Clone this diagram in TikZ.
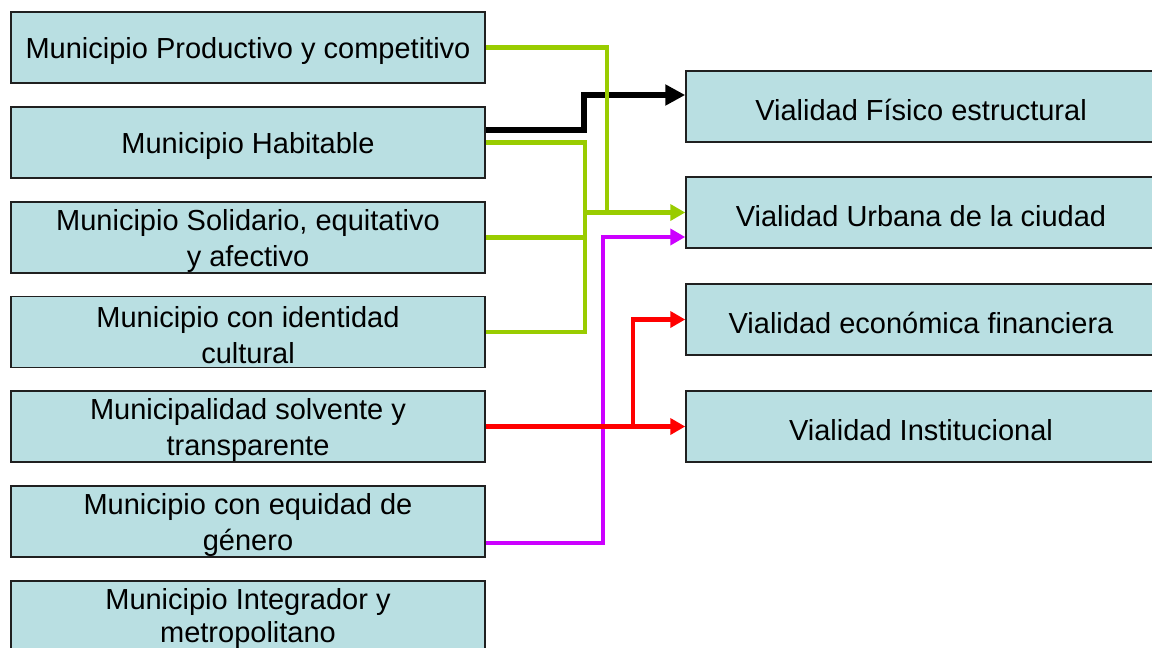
\documentclass[tikz,border=0pt]{standalone}
\usepackage{fontspec}
\setmainfont{Liberation Sans}
\usetikzlibrary{arrows.meta}
\definecolor{boxfill}{HTML}{B9DFE2}
\definecolor{boxline}{HTML}{202020}
\definecolor{lgreen}{HTML}{99CC00}
\definecolor{lmag}{HTML}{CC00FF}
\definecolor{lred}{HTML}{FF0000}
\tikzset{
  lbox/.style={draw=boxline, line width=1.5pt, fill=boxfill, minimum width=474pt, minimum height=71pt, inner sep=0pt},
  rbox/.style={draw=boxline, line width=1.5pt, fill=boxfill, minimum width=470pt, minimum height=71pt, inner sep=0pt},
  txt/.style={inner sep=0pt, align=center, font=\fontsize{29}{36}\selectfont},
  tip/.style={-{Triangle[length=15pt,width=16pt]}},
  bigtip/.style={-{Triangle[length=20pt,width=20pt]}},
  gline/.style={draw=lgreen, line width=4.5pt},
  kline/.style={draw=black, line width=5.5pt},
  rline/.style={draw=lred, line width=4.5pt},
  mline/.style={draw=lmag, line width=4pt}
}
\begin{document}
\begin{tikzpicture}[x=1pt,y=-1pt]
\useasboundingbox (0,0) rectangle (1152,648);
\clip (0,0) rectangle (1152,648);
% left boxes
\node[lbox] (L1) at (248,47.5) {};
\node[lbox] (L2) at (248,142.5) {};
\node[lbox] (L3) at (248,237.5) {};
\node[lbox] (L4) at (248,332) {};
\node[lbox] (L5) at (248,426.5) {};
\node[lbox] (L6) at (248,521.5) {};
\node[lbox] (L7) at (248,616.5) {};
\node[txt] (L1t) at ([yshift=-3.5pt]L1.center) {Municipio Productivo y competitivo};
\node[txt] (L2t) at ([yshift=-3.5pt]L2.center) {Municipio Habitable};
\node[txt] (L3t) at ([yshift=-3.5pt]L3.center) {Municipio Solidario, equitativo\\y afectivo};
\node[txt] (L4t) at ([yshift=-3.5pt]L4.center) {Municipio con identidad\\cultural};
\node[txt] (L5t) at ([yshift=-3.5pt]L5.center) {Municipalidad solvente y\\transparente};
\node[txt] (L6t) at ([yshift=-3.5pt]L6.center) {Municipio con equidad de\\género};
\node[txt, font=\fontsize{29}{33}\selectfont] (L7t) at ([yshift=-2pt]L7.center) {Municipio Integrador y\\metropolitano};
% right boxes
\node[rbox] (R1) at (921,106.5) {};
\node[rbox] (R2) at (921,212.5) {};
\node[rbox] (R3) at (921,319.5) {};
\node[rbox] (R4) at (921,426.5) {};
\node[txt] (R1t) at ([yshift=-3.5pt]R1.center) {Vialidad Físico estructural};
\node[txt] (R2t) at ([yshift=-3.5pt]R2.center) {Vialidad Urbana de la ciudad};
\node[txt] (R3t) at ([yshift=-3.5pt]R3.center) {Vialidad económica financiera};
\node[txt] (R4t) at ([yshift=-3.5pt]R4.center) {Vialidad Institucional};
% helper coordinates
\coordinate (bx) at (584,0);
\coordinate (gx) at (585,0);
\coordinate (g1x) at (607,0);
\coordinate (mx) at (603,0);
\coordinate (rx) at (633,0);
\coordinate (k1) at ([yshift=12.5pt]L2.east);
\coordinate (k2) at ([yshift=11.5pt]R1.west);
\coordinate (m1) at ([yshift=-21.5pt]L6.east);
\coordinate (m2) at ([yshift=-24.5pt]R2.west);
% black
\draw[kline,bigtip] (k1) -| (bx |- k2) -- (k2);
% green
\draw[gline] (L2.east) -| (gx |- L4.east) -- (L4.east);
\draw[gline] (L3.east) -- (gx |- L3.east);
\draw[gline,tip] (L1.east) -| (g1x |- R2.west) -- (R2.west);
\draw[gline] (gx |- R2.west) -- (g1x |- R2.west);
% magenta
\draw[mline,tip] (m1) -| (mx |- m2) -- (m2);
% red
\draw[rline,tip] (L5.east) -- (R4.west);
\draw[rline,tip] (rx |- L5.east) |- (R3.west);
\end{tikzpicture}
\end{document}
